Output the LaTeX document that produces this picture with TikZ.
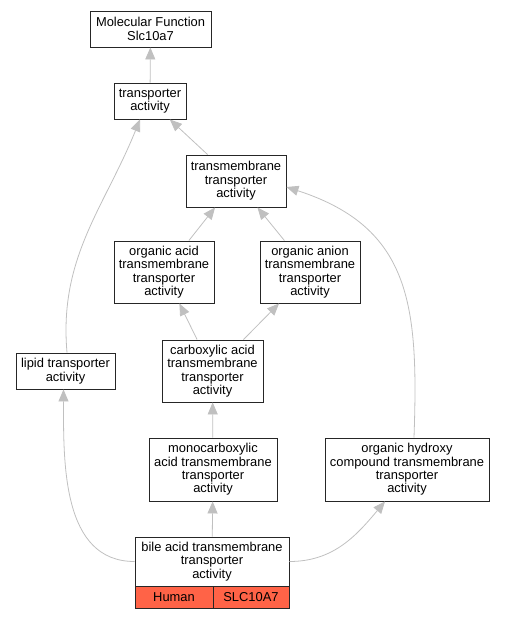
\documentclass[tikz,border=0pt]{standalone}
\usepackage{fontspec}
\setmainfont{Liberation Sans}
\usetikzlibrary{arrows.meta,positioning}
\definecolor{tomato}{RGB}{255,99,71}
\definecolor{edgegray}{RGB}{192,192,192}

\begin{document}
\begin{tikzpicture}[x=1pt,y=-1pt,
    box/.style={draw=black!85, line width=0.9pt, align=center, inner sep=0pt,
        font=\fontsize{12.9}{13.4}\selectfont},
    gene/.style={box, fill=tomato},
    edge/.style={draw=edgegray, line width=0.8pt, -{Triangle[length=12pt,width=10pt]}}]
    \useasboundingbox (0,0) rectangle (504,619);

    \node[box, minimum width=121, minimum height=36] (mf) at (150.5,29) {Molecular Function\\Slc10a7};
    \node[box, minimum width=72, minimum height=36] (ta) at (150,101) {transporter\\activity};
    \node[box, minimum width=100, minimum height=52] (tm) at (236,181) {transmembrane\\transporter\\activity};

    \node[box, minimum width=100, minimum height=62] (oa) at (164,272) {organic acid\\transmembrane\\transporter\\activity};
    \node[box, minimum width=100, minimum height=62] (oan) at (310,272) {organic anion\\transmembrane\\transporter\\activity};

    \node[box, minimum width=99, minimum height=36] (lip) at (65.5,371) {lipid transporter\\activity};
    \node[box, minimum width=101, minimum height=62] (carb) at (212.5,371) {carboxylic acid\\transmembrane\\transporter\\activity};

    \node[box, minimum width=128, minimum height=63] (mono) at (213,469.5) {monocarboxylic\\acid transmembrane\\transporter\\activity};
    \node[box, minimum width=164, minimum height=63] (ohc) at (407,469.5) {organic hydroxy\\compound transmembrane\\transporter\\activity};

    \node[box, minimum width=154, minimum height=49] (bile) at (212,561.5) {bile acid transmembrane\\transporter\\activity};
    \node[gene, minimum width=78, minimum height=22] (human) at (174,597) {Human};
    \node[gene, minimum width=76, minimum height=22] (slc) at (251,597) {SLC10A7};

    % is_a edges
    \draw[edge] (ta) -- (mf);
    \draw[edge] (tm) -- (ta);
    \draw[edge] (oa) -- (tm);
    \draw[edge] (oan) -- (tm);
    \draw[edge] (carb) -- (oa);
    \draw[edge] (carb) -- (oan);
    \draw[edge] (mono) -- (carb);
    \draw[edge] (bile) -- (mono);
    \draw[edge] (bile.west) to[out=180,in=-90] ([xshift=-2]lip.south);
    \draw[edge] (bile.east) to[out=0,in=-130] ([xshift=-22]ohc.south);
    \draw[edge] ([xshift=1.5]lip.north) to[out=95,in=-112] ([xshift=-10]ta.south);
    \draw[edge] ([xshift=7]ohc.north) to[out=88,in=-18,looseness=1.2] ([yshift=-6]tm.east);
\end{tikzpicture}
\end{document}
